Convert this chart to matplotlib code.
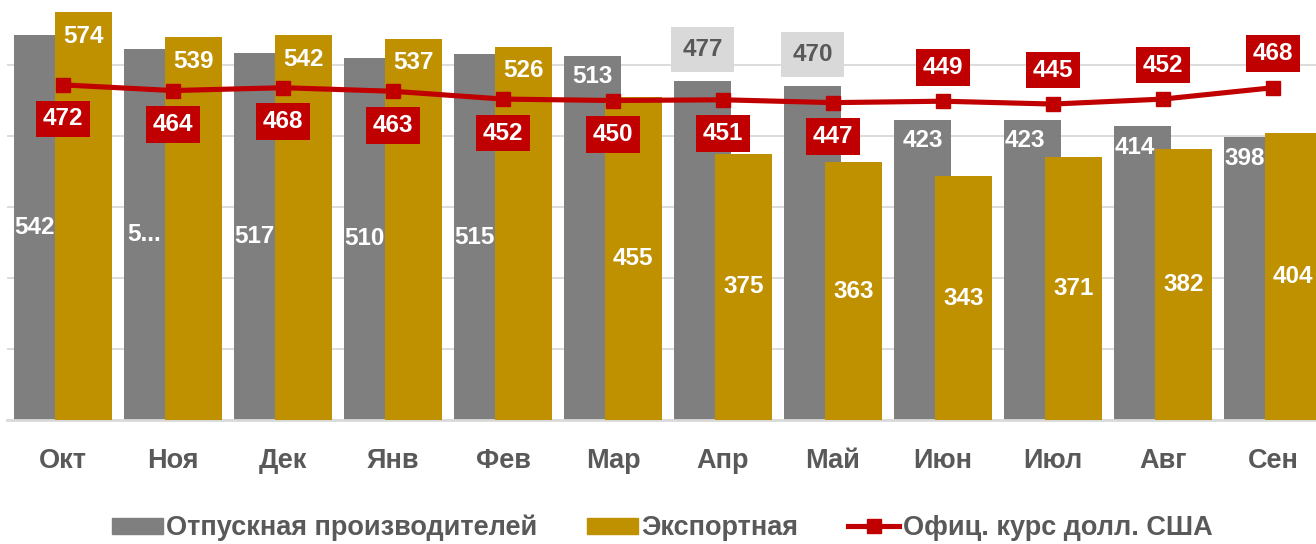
import matplotlib
matplotlib.use('Agg')
import matplotlib.pyplot as plt
from matplotlib import font_manager as fm
from matplotlib.lines import Line2D
from matplotlib.patches import Patch

# ---------------- data ----------------
months = ['Окт', 'Ноя', 'Дек', 'Янв', 'Фев', 'Мар', 'Апр', 'Май', 'Июн', 'Июл', 'Авг', 'Сен']
producer = [542, 523, 517, 510, 515, 513, 477, 470, 423, 423, 414, 398]
producer_text = ['542', '5...', '517', '510', '515', '513', '477', '470', '423', '423', '414', '398']
export = [574, 539, 542, 537, 526, 455, 375, 363, 343, 371, 382, 404]
rate = [472, 464, 468, 463, 452, 450, 451, 447, 449, 445, 452, 468]
series_names = ['Отпускная производителей', 'Экспортная', 'Офиц. курс долл. США']

# label placement styles
producer_pos = ['center'] * 5 + ['inside'] + ['outside'] * 2 + ['inside'] * 4
export_pos = ['inside'] * 5 + ['center'] * 7
rate_pos = ['below'] * 8 + ['above'] * 4

# ---------------- style ----------------
GRAY = '#7f7f7f'
GOLD = '#bf9000'
RED = '#c00000'
GRID = '#d9d9d9'
TXT = '#595959'

avail = {f.name for f in fm.fontManager.ttflist}
REG = 'Liberation Sans' if 'Liberation Sans' in avail else 'DejaVu Sans'
NARROW = 'Liberation Sans Narrow' if 'Liberation Sans Narrow' in avail else REG

W, H = 1316, 544
DPI = 100
fig = plt.figure(figsize=(W / DPI, H / DPI), dpi=DPI)
left_px, base_px = 7, 420
ax = fig.add_axes([left_px / W, (H - base_px) / H, (W - left_px) / W, base_px / H])

px_per_unit = 0.71
ymax = base_px / px_per_unit
slot = 110.0
x0_px = 63.0
ax.set_ylim(0, ymax)
ax.set_xlim((left_px - x0_px) / slot, (W - x0_px) / slot)

bw = 0.52
off = 0.185
x = list(range(len(months)))
xg = [i - off for i in x]
xe = [i + off for i in x]

for v in range(100, 600, 100):
    ax.axhline(v, color=GRID, lw=1.3, zorder=0)

LW = 3.7
MS = 10.5
ax.bar(xg, producer, width=bw, color=GRAY, zorder=2)
ax.bar(xe, export, width=bw, color=GOLD, zorder=3)
ax.plot(x, rate, color=RED, lw=LW, marker='s', markersize=MS, zorder=5,
        solid_capstyle='round')

for s in ['top', 'right', 'left']:
    ax.spines[s].set_visible(False)
ax.spines['bottom'].set_color(GRID)
ax.spines['bottom'].set_linewidth(2)
ax.set_yticks([])
ax.set_xticks(x)
ax.set_xticklabels(months, fontfamily=NARROW, fontweight='bold', fontsize=19.5, color=TXT)
ax.tick_params(axis='x', length=0, pad=20)

PT = 72.0 / DPI  # points per pixel
LFS = 17.5

def lab(xv, yv, text, dy_px, color='white', box=None, ha='center'):
    ax.annotate(text, (xv, yv), xytext=(0, dy_px * PT), textcoords='offset points',
                ha=ha, va='center', fontsize=LFS, fontfamily=REG,
                fontweight='bold', color=color, zorder=7, bbox=box,
                annotation_clip=False)

gray_vis_x = ((-off - bw / 2) + (off - bw / 2)) / 2
gold_left = off - bw / 2

for i, (v, t, p) in enumerate(zip(producer, producer_text, producer_pos)):
    if p == 'center':
        ax.text(i + gray_vis_x, v / 2, t, ha='center', va='center', fontsize=LFS,
                fontfamily=REG, fontweight='bold', color='white', zorder=7)
    elif p == 'inside':
        # if the gold bar reaches the label, keep it left of the gold bar
        if (v - export[i]) * px_per_unit < 40:
            lab(i + gold_left, v, t, -21, ha='right')
        else:
            lab(i - off, v, t, -21)
    else:
        lab(i - off, v, t, 32, color=TXT,
            box=dict(boxstyle='square,pad=0.45', fc='#d9d9d9', ec='none'))

for i, (v, p) in enumerate(zip(export, export_pos)):
    if p == 'inside':
        lab(i + off, v, str(v), -24)
    else:
        ax.text(i + off, v / 2, str(v), ha='center', va='center', fontsize=LFS,
                fontfamily=REG, fontweight='bold', color='white', zorder=7)

for i, (v, p) in enumerate(zip(rate, rate_pos)):
    dy = -34 if p == 'below' else 34
    lab(i, v, str(v), dy, box=dict(boxstyle='square,pad=0.28', fc=RED, ec='none'))

handles = [Patch(color=GRAY), Patch(color=GOLD),
           Line2D([0], [0], color=RED, lw=LW, marker='s', markersize=MS)]
fig.legend(handles, series_names, loc='center', bbox_to_anchor=(0.503, 1 - 528 / H),
           ncol=3, frameon=False, borderpad=0, handlelength=1.88, handleheight=0.55,
           handletextpad=0.12, columnspacing=1.85,
           prop=dict(family=NARROW, weight='bold', size=19.5), labelcolor=TXT)

fig.savefig('out.png', dpi=DPI)
